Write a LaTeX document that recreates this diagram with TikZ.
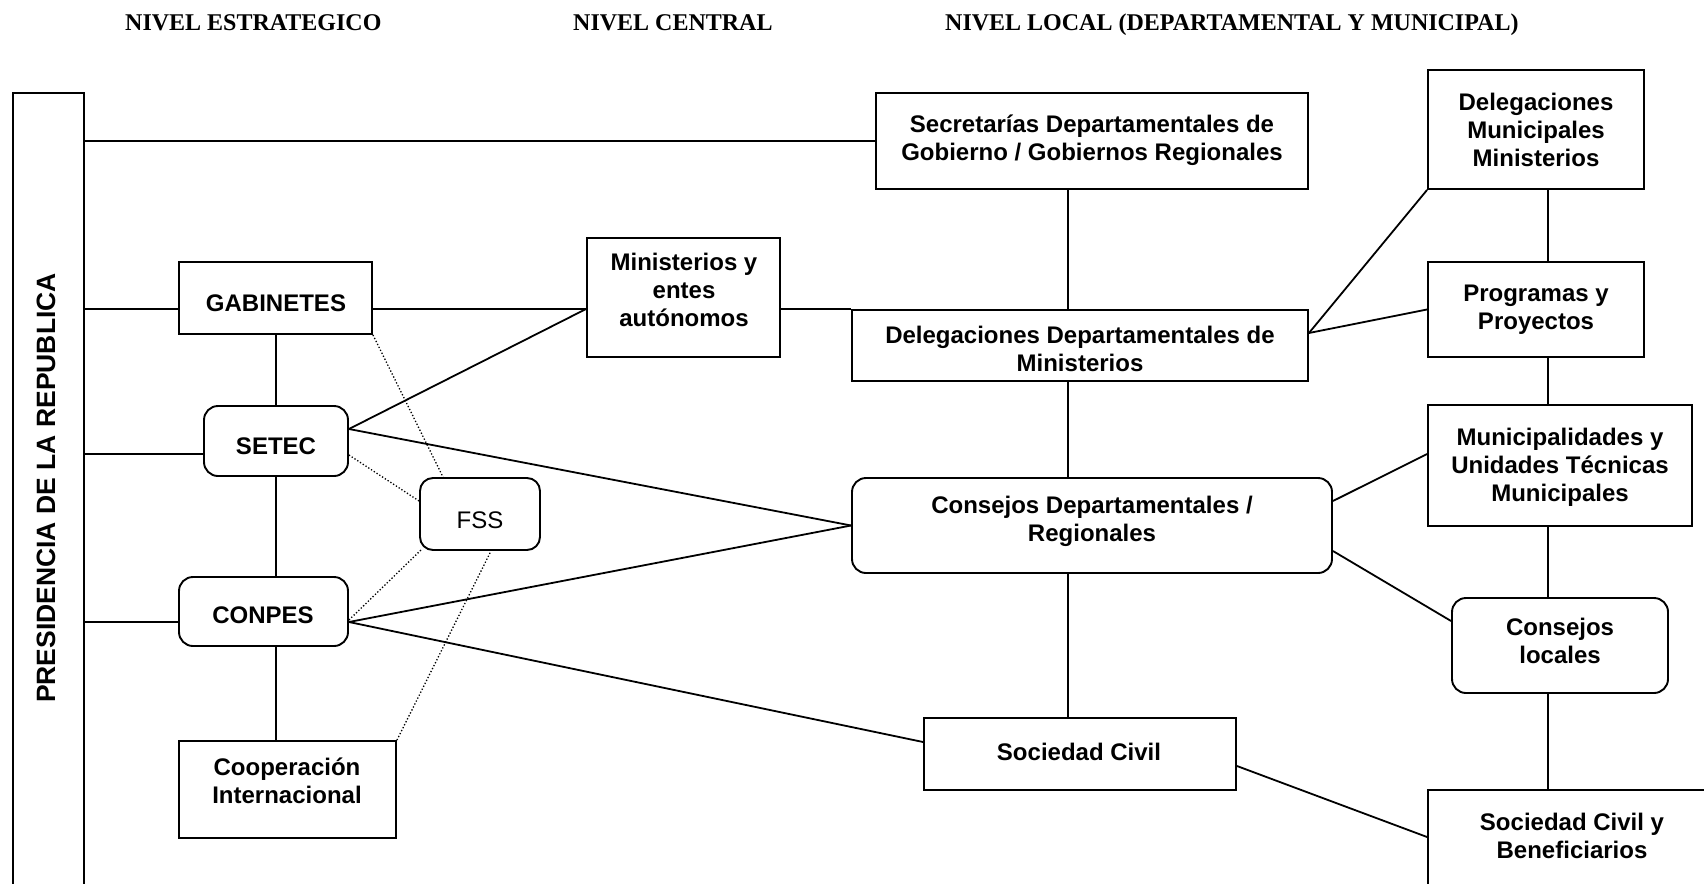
\documentclass[tikz,border=0pt]{standalone}
\usepackage{fontspec}
\setmainfont{Liberation Sans}
\newfontfamily\hdrfont{Liberation Serif}
\usetikzlibrary{calc}
\begin{document}
\begin{tikzpicture}[x=1pt,y=-1pt,
  box/.style={draw, line width=1.9pt, inner sep=0pt},
  rbox/.style={box, rounded corners=14pt},
  txt/.style={font=\fontsize{24}{28}\selectfont\bfseries, align=center, inner sep=0pt},
  plain/.style={font=\fontsize{24}{28}\selectfont, align=center, inner sep=0pt},
  hdr/.style={font=\hdrfont\fontsize{24}{28}\selectfont\bfseries, anchor=base west, inner sep=0pt},
  conn/.style={line width=1.8pt},
  dotconn/.style={line width=1.3pt, dotted}]
\useasboundingbox[fill=white] (0,0) rectangle (1704,883);
\clip (0,0) rectangle (1704,883);

% headers
\node[hdr] (h1) at (125,31) {NIVEL ESTRATEGICO};
\node[hdr] (h2) at (573,31) {NIVEL CENTRAL};
\node[hdr] (h3) at (945,31) {NIVEL LOCAL (DEPARTAMENTAL Y MUNICIPAL)};

% boxes
\node[box, minimum width=71pt, minimum height=817pt] (pres) at (48.5,501.5) {};
\node[txt, font=\fontsize{26.5}{30}\selectfont\bfseries, rotate=90] (prest) at (46,488) {PRESIDENCIA DE LA REPUBLICA};

\node[box, minimum width=193pt, minimum height=72pt] (gab) at (275.5,298) {};
\node[txt] (gabt) at (276,303) {GABINETES};

\node[rbox, minimum width=144pt, minimum height=70pt] (setec) at (276,441) {};
\node[txt] (setect) at (276,446) {SETEC};

\node[rbox, minimum width=169pt, minimum height=69pt] (conpes) at (263.5,611.5) {};
\node[txt] (conpest) at (263,615) {CONPES};

\node[box, minimum width=217pt, minimum height=97pt] (coop) at (287.5,789.5) {};
\node[txt] (coopt) at (287,781) {Cooperación\\Internacional};

\node[rbox, rounded corners=13pt, minimum width=120pt, minimum height=72pt] (fss) at (480,514) {};
\node[plain] (fsst) at (480,520) {FSS};

\node[box, minimum width=193pt, minimum height=119pt] (min) at (683.5,297.5) {};
\node[txt] (mint) at (684,290) {Ministerios y\\entes\\autónomos};

\node[box, minimum width=432pt, minimum height=96pt] (secr) at (1092,141) {};
\node[txt] (secrt) at (1092,140) {Secretarías Departamentales de\\Gobierno / Gobiernos Regionales};

\node[box, minimum width=456pt, minimum height=71pt] (deld) at (1080,345.5) {};
\node[txt] (deldt) at (1080,349) {Delegaciones Departamentales de\\Ministerios};

\node[rbox, minimum width=480pt, minimum height=95pt] (cdep) at (1092,525.5) {};
\node[txt] (cdept) at (1092,521) {Consejos Departamentales /\\Regionales};

\node[box, minimum width=312pt, minimum height=72pt] (soc) at (1080,754) {};
\node[txt] (soct) at (1079,752) {Sociedad Civil};

\node[box, minimum width=216pt, minimum height=119pt] (dmun) at (1536,129.5) {};
\node[txt] (dmunt) at (1536,130) {Delegaciones\\Municipales\\Ministerios};

\node[box, minimum width=216pt, minimum height=95pt] (prog) at (1536,309.5) {};
\node[txt] (progt) at (1536,310) {Programas y\\Proyectos};

\node[box, minimum width=264pt, minimum height=121pt] (muni) at (1560,465.5) {};
\node[txt] (munit) at (1560,467) {Municipalidades y\\Unidades Técnicas\\Municipales};

\node[rbox, minimum width=216pt, minimum height=95pt] (cloc) at (1560,645.5) {};
\node[txt] (clott) at (1560,641) {Consejos\\locales};

\node[box, minimum width=292pt, minimum height=110pt] (scb) at (1574,845) {};
\node[txt] (scbt) at (1572,836) {Sociedad Civil y\\Beneficiarios};

% helper coordinates for vertical trunks
\coordinate (vl) at (276,0);
\coordinate (vc) at (1068,0);
\coordinate (vr) at (1548,0);

% connectors from Presidencia
\draw[conn] (secr.west) -- (secr.west -| pres.east);
\draw[conn] ($(gab.west)+(0,11)$) coordinate (g1) -- (g1 -| pres.east);
\draw[conn] ($(setec.west)+(0,13)$) coordinate (s1) -- (s1 -| pres.east);
\draw[conn] ($(conpes.west)+(0,10.5)$) coordinate (c1) -- (c1 -| pres.east);

% left trunk
\draw[conn] (gab.south -| vl) -- (setec.north -| vl);
\draw[conn] (setec.south -| vl) -- (conpes.north -| vl);
\draw[conn] (conpes.south -| vl) -- (coop.north -| vl);

% central horizontal line
\draw[conn] ($(gab.east)+(0,11)$) coordinate (g2) -- (g2 -| min.west);
\draw[conn] (deld.north west) -- (deld.north west -| min.east);

% SETEC and CONPES fans
\coordinate (se) at ($(setec.east)+(0,-12)$);
\coordinate (ce) at ($(conpes.east)+(0,10.5)$);
\draw[conn] (se) -- ($(min.west)+(0,11.5)$);
\draw[conn] (se) -- (cdep.west);
\draw[conn] (ce) -- (cdep.west);
\draw[conn] (ce) -- ($(soc.west)+(0,-12)$);

% central trunk
\draw[conn] (secr.south -| vc) -- (deld.north -| vc);
\draw[conn] (deld.south -| vc) -- (cdep.north -| vc);
\draw[conn] (cdep.south -| vc) -- (soc.north -| vc);

% to the right column
\coordinate (de) at ($(deld.east)+(0,-12.5)$);
\draw[conn] (de) -- (dmun.south west);
\draw[conn] (de) -- (prog.west);
\draw[conn] ($(cdep.east)+(0,-24.5)$) -- ($(muni.west)+(0,-11.5)$);
\draw[conn] ($(cdep.east)+(0,25.5)$) -- ($(cloc.west)+(0,-24.5)$);
\draw[conn] ($(soc.east)+(0,12)$) -- ($(scb.west)+(0,-8)$);

% right trunk
\draw[conn] (dmun.south -| vr) -- (prog.north -| vr);
\draw[conn] (prog.south -| vr) -- (muni.north -| vr);
\draw[conn] (muni.south -| vr) -- (cloc.north -| vr);
\draw[conn] (cloc.south -| vr) -- (scb.north -| vr);

% dotted links to FSS
\draw[dotconn] (gab.south east) -- ($(fss.north)+(-37,0)$);
\draw[dotconn] ($(setec.east)+(0,14)$) -- ($(fss.west)+(0,-13)$);
\draw[dotconn] ($(conpes.east)+(0,8.5)$) -- ($(fss.south west)+(3,-2)$);
\draw[dotconn] (coop.north east) -- ($(fss.south)+(11,0)$);
\end{tikzpicture}
\end{document}
